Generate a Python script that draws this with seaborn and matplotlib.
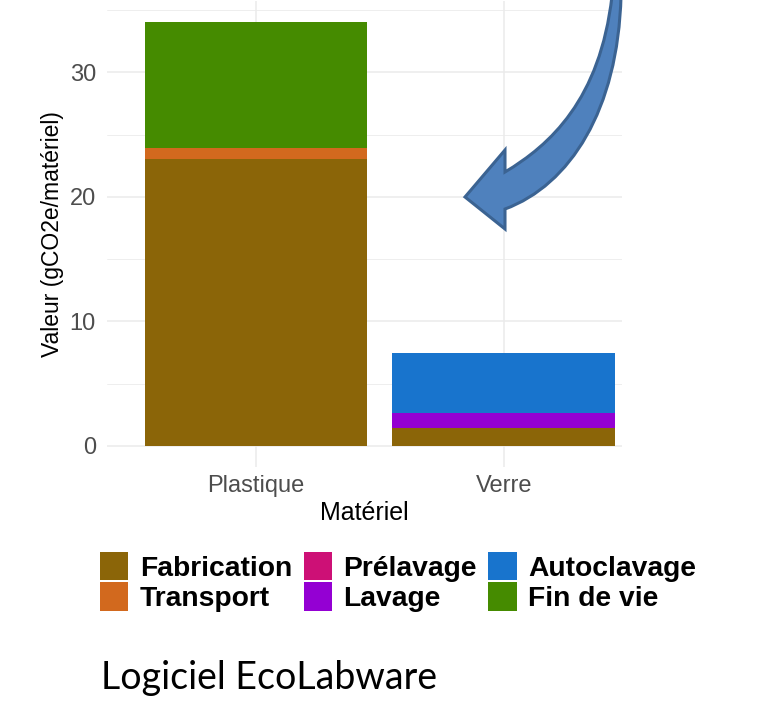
import numpy as np
import pandas as pd
import matplotlib.pyplot as plt
import seaborn as sns
from matplotlib.patches import Patch, PathPatch
from matplotlib.path import Path
from matplotlib.transforms import Affine2D

# data (gCO2e / matériel)
materiels = ["Plastique", "Verre"]
etapes = ["Fabrication", "Transport", "Prélavage", "Lavage", "Autoclavage", "Fin de vie"]
fabrication = [23.05, 1.42]
transport = [0.85, 0.05]
prelavage = [0.0, 0.0]
lavage = [0.0, 1.16]
autoclavage = [0.0, 4.82]
fin_de_vie = [10.15, 0.0]
couleurs = ["#8B6508", "#D2691E", "#CD1076", "#9400D3", "#1874CD", "#458B00"]

df = pd.DataFrame({"Fabrication": fabrication, "Transport": transport,
                   "Prélavage": prelavage, "Lavage": lavage,
                   "Autoclavage": autoclavage, "Fin de vie": fin_de_vie},
                  index=materiels)
cumul = df[etapes].cumsum(axis=1)

sns.set_style("white")
plt.rcParams["font.family"] = ["Liberation Sans", "DejaVu Sans"]

W, H = 759, 708
fig = plt.figure(figsize=(W / 100, H / 100), dpi=100)
ax = fig.add_axes([107 / W, 1 - 467 / H, (622 - 107) / W, (467 - 1) / H])

# stacked bars: draw cumulative totals from top layer down
for etape, col in reversed(list(zip(etapes, couleurs))):
    sns.barplot(x=materiels, y=cumul[etape].values, color=col, saturation=1,
                width=0.9, linewidth=0, ax=ax, zorder=2)

ax.set_xlim(-0.6015, 1.4776)
ax.set_ylim(-1.69, 35.74)
ax.set_yticks([0, 10, 20, 30])
ax.set_yticks([5, 15, 25, 35], minor=True)
ax.grid(True, which="major", color="#EBEBEB", linewidth=1.1, zorder=0)
ax.grid(True, which="minor", axis="y", color="#EBEBEB", linewidth=0.6, zorder=0)
ax.set_axisbelow(True)
for s in ax.spines.values():
    s.set_visible(False)
ax.tick_params(axis="both", which="both", length=0, labelsize=17, labelcolor="#4D4D4D")
ax.tick_params(axis="y", pad=8)
ax.tick_params(axis="x", pad=6)
ax.set_xlabel("Matériel", fontsize=18, labelpad=3, color="black")
ax.set_ylabel("Valeur (gCO2e/matériel)", fontsize=16.5, labelpad=4, color="black")

# legend
handles = [Patch(facecolor=c, edgecolor="none", label=e) for e, c in zip(etapes, couleurs)]
leg = fig.legend(handles=handles, ncol=3, loc="upper left",
                 bbox_to_anchor=(100 / W, 1 - 552 / H), frameon=False,
                 prop={"family": "Liberation Sans", "weight": "bold", "size": 20.3},
                 handlelength=1.0, handleheight=1.16, handletextpad=0.42,
                 labelspacing=0.03, columnspacing=0.4, borderpad=0, borderaxespad=0)
for t in leg.get_texts():
    t.set_color("black")

fig.text(101 / W, 1 - 689 / H, "Logiciel EcoLabware", fontsize=27,
         family="Lato", va="baseline", ha="left", color="black")

# curved block arrow (annotation shape, in pixel coordinates)
verts = [(612, -4), (600, 100), (550, 145), (505, 172),
         (505, 150), (465, 197), (505, 229), (505, 209),
         (570, 185), (618, 110), (621, -4), (612, -4)]
codes = [Path.MOVETO, Path.CURVE4, Path.CURVE4, Path.CURVE4,
         Path.LINETO, Path.LINETO, Path.LINETO, Path.LINETO,
         Path.CURVE4, Path.CURVE4, Path.CURVE4, Path.CLOSEPOLY]
px = Affine2D().scale(1 / W, -1 / H).translate(0, 1) + fig.transFigure
arrow = PathPatch(Path(verts, codes), facecolor="#4F81BD", edgecolor="#3B6392",
                  linewidth=2.2, joinstyle="miter", transform=px, zorder=5)
fig.add_artist(arrow)

fig.savefig("out.png", dpi=100)
